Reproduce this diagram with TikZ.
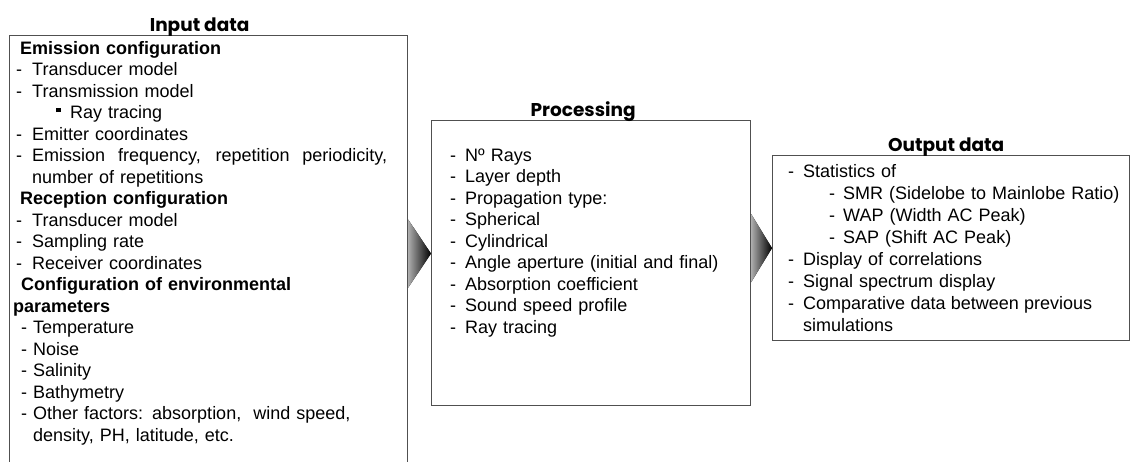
\documentclass[tikz,border=0pt]{standalone}
\usepackage{fontspec}
\setmainfont{Liberation Sans}
\newfontfamily\headfont{Poppins}
\usepackage{tikz}
\usetikzlibrary{positioning,calc}
\definecolor{boxgray}{RGB}{80,80,80}
\tikzset{
  box/.style   = {draw=boxgray, line width=1.2pt, rectangle, anchor=north west,
                  inner sep=0pt},
  title/.style = {font=\headfont\bfseries\fontsize{18.5}{22}\selectfont,
                  inner sep=0pt, anchor=base},
  list/.style  = {font=\fontsize{18}{21.5}\selectfont, inner sep=0pt,
                  anchor=base west, align=left, text width=#1},
  flow/.style  = {left color=gray!65, middle color=black!85, right color=black,
                  draw=none}
}
\newcommand{\itm}[2][16pt]{\makebox[#1][l]{-}#2}
\newcommand{\spread}[2]{\makebox[#1][s]{\spaceskip=0pt\xspaceskip=0pt #2}}

\begin{document}
\begin{tikzpicture}[x=1pt,y=-1pt]
  \path[use as bounding box, clip] (0,0) rectangle (1131,461);
  % boxes
  \node[box, minimum width=398pt, minimum height=436pt] (input) at (9,35) {};
  \node[box, minimum width=319pt, minimum height=285pt] (proc) at (431,120) {};
  \node[box, minimum width=357pt, minimum height=185pt] (output) at (772,155) {};
  % titles
  \node[title] (inputtitle) at ([xshift=-9pt,yshift=4pt]input.north) {Input data};
  \node[title] (proctitle) at ([xshift=-8pt,yshift=4pt]proc.north) {Processing};
  \node[title] (outputtitle) at ([xshift=-5pt,yshift=4pt]output.north) {Output data};
  % input data
  \node[list=390pt] (inputlist) at ([xshift=4pt,yshift=-19pt]input.north west) {%
    \hspace*{7pt}\textbf{Emission configuration}\\
    \hspace*{3pt}\itm{Transducer model}\\
    \hspace*{3pt}\itm{Transmission model}\\
    \hspace*{43pt}\raisebox{6.5pt}{\rule{4.5pt}{4.5pt}}\hspace{9.5pt}Ray tracing\\
    \hspace*{3pt}\itm{Emitter coordinates}\\
    \hspace*{3pt}\itm{\spread{355pt}{Emission frequency, repetition periodicity,}}\\
    \hspace*{19pt}number of repetitions\\
    \hspace*{7pt}\textbf{Reception configuration}\\
    \hspace*{3pt}\itm{Transducer model}\\
    \hspace*{3pt}\itm{Sampling rate}\\
    \hspace*{3pt}\itm{Receiver coordinates}\\
    \hspace*{8pt}\textbf{Configuration of environmental}\\
    \textbf{parameters}\\
    \hspace*{8pt}\itm[12pt]{Temperature}\\
    \hspace*{8pt}\itm[12pt]{Noise}\\
    \hspace*{8pt}\itm[12pt]{Salinity}\\
    \hspace*{8pt}\itm[12pt]{Bathymetry}\\
    \hspace*{8pt}\itm[12pt]{Other factors: absorption,\ \ wind speed,}\\
    \hspace*{20pt}density, PH, latitude, etc.};
  % processing
  \node[list=300pt] (proclist) at ([xshift=19pt,yshift=-41pt]proc.north west) {%
    \itm[15pt]{Nº Rays}\\
    \itm[15pt]{Layer depth}\\
    \itm[15pt]{Propagation type:}\\
    \itm[15pt]{Spherical}\\
    \itm[15pt]{Cylindrical}\\
    \itm[15pt]{Angle aperture (initial and final)}\\
    \itm[15pt]{Absorption coefficient}\\
    \itm[15pt]{Sound speed profile}\\
    \itm[15pt]{Ray tracing}};
  % output data
  \node[list=340pt, font=\fontsize{18}{22}\selectfont] (outputlist)
    at ([xshift=16pt,yshift=-22pt]output.north west) {%
    \itm[15pt]{Statistics of}\\
    \hspace*{41pt}\itm[14pt]{SMR (Sidelobe to Mainlobe Ratio)}\\
    \hspace*{41pt}\itm[14pt]{WAP (Width AC Peak)}\\
    \hspace*{41pt}\itm[14pt]{SAP (Shift AC Peak)}\\
    \itm[15pt]{Display of correlations}\\
    \itm[15pt]{Signal spectrum display}\\
    \itm[15pt]{\spread{289pt}{Comparative data between previous}}\\
    \hspace*{15pt}simulations};
  % arrows between the stages
  \fill[flow] ($(input.east)+(0,-34)$) -- (proc.west |- input.east)
    -- ($(input.east)+(0,34)$) -- cycle;
  \fill[flow] ($(proc.east |- output.west)+(0,-34)$) -- (output.west)
    -- ($(proc.east |- output.west)+(0,34)$) -- cycle;
\end{tikzpicture}
\end{document}
